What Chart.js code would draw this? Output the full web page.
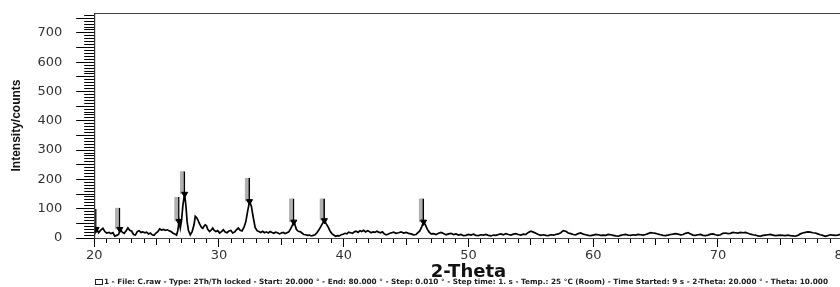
<!DOCTYPE html>
<html>
<head>
<meta charset="utf-8">
<script src="https://cdn.jsdelivr.net/npm/chart.js@4/dist/chart.umd.min.js"></script>
<style>
  html, body { margin: 0; padding: 0; background: #fff; overflow: hidden; }
  #wrap { position: relative; width: 853px; height: 287px; }
</style>
</head>
<body>
<div id="wrap"><canvas id="xrd"></canvas></div>
<script>
// XRD pattern (2-Theta in degrees, counts)
const twoTheta = [
  20.0, 20.1, 20.2, 20.35, 20.5, 20.7, 20.85, 21.0, 21.2, 21.35, 21.5, 21.65, 21.8, 21.95,
  22.1, 22.25, 22.4, 22.55, 22.7, 22.85, 23.0, 23.15, 23.3, 23.45, 23.6, 23.75, 23.9,
  24.05, 24.2, 24.35, 24.5, 24.65, 24.8, 24.95, 25.1, 25.25, 25.4, 25.55, 25.7, 25.85,
  26.0, 26.15, 26.3, 26.45, 26.6, 26.7, 26.8, 26.9, 27.0, 27.1, 27.2, 27.25, 27.35, 27.45,
  27.55, 27.7, 27.85, 28.0, 28.1, 28.2, 28.3, 28.4, 28.5, 28.6, 28.7, 28.8, 28.9, 29.0,
  29.1, 29.25, 29.4, 29.5, 29.6, 29.75, 29.9, 30.05, 30.2, 30.35, 30.5, 30.65, 30.8,
  30.95, 31.1, 31.25, 31.4, 31.55, 31.7, 31.85, 32.0, 32.15, 32.3, 32.45, 32.6, 32.75,
  32.9, 33.05, 33.2, 33.35, 33.5, 33.65, 33.8, 33.95, 34.1, 34.25, 34.4, 34.55, 34.7,
  34.85, 35.0, 35.15, 35.3, 35.45, 35.6, 35.75, 35.9, 36.0, 36.1, 36.2, 36.35, 36.5,
  36.65, 36.8, 36.95, 37.1, 37.25, 37.4, 37.55, 37.7, 37.85, 38.0, 38.15, 38.3, 38.45,
  38.6, 38.75, 38.9, 39.05, 39.2, 39.35, 39.5, 39.65, 39.8, 39.95, 40.1, 40.25, 40.4,
  40.55, 40.7, 40.85, 41.0, 41.15, 41.3, 41.45, 41.6, 41.75, 41.9, 42.05, 42.2, 42.35,
  42.5, 42.65, 42.8, 42.95, 43.1, 43.25, 43.4, 43.55, 43.7, 43.85, 44.0, 44.2, 44.4,
  44.6, 44.8, 45.0, 45.2, 45.4, 45.6, 45.8, 45.95, 46.1, 46.25, 46.4, 46.55, 46.7, 46.85,
  47.0, 47.2, 47.4, 47.6, 47.8, 48.0, 48.2, 48.4, 48.6, 48.8, 49.0, 49.2, 49.4, 49.6,
  49.8, 50.0, 50.2, 50.4, 50.6, 50.8, 51.0, 51.2, 51.4, 51.6, 51.8, 52.0, 52.2, 52.4,
  52.6, 52.8, 53.0, 53.2, 53.4, 53.6, 53.8, 54.0, 54.2, 54.4, 54.6, 54.8, 55.0, 55.2,
  55.4, 55.6, 55.8, 56.0, 56.2, 56.4, 56.6, 56.8, 57.0, 57.2, 57.4, 57.6, 57.8, 58.0,
  58.2, 58.4, 58.6, 58.8, 59.0, 59.2, 59.4, 59.6, 59.8, 60.0, 60.2, 60.4, 60.6, 60.8,
  61.0, 61.2, 61.4, 61.6, 61.8, 62.0, 62.2, 62.4, 62.6, 62.8, 63.0, 63.2, 63.4, 63.6,
  63.8, 64.0, 64.2, 64.4, 64.6, 64.8, 65.0, 65.2, 65.4, 65.6, 65.8, 66.0, 66.2, 66.4,
  66.6, 66.8, 67.0, 67.2, 67.4, 67.6, 67.8, 68.0, 68.2, 68.4, 68.6, 68.8, 69.0, 69.2,
  69.4, 69.6, 69.8, 70.0, 70.2, 70.4, 70.6, 70.8, 71.0, 71.2, 71.4, 71.6, 71.8, 72.0,
  72.2, 72.4, 72.6, 72.8, 73.0, 73.2, 73.4, 73.6, 73.8, 74.0, 74.2, 74.4, 74.6, 74.8,
  75.0, 75.2, 75.4, 75.6, 75.8, 76.0, 76.2, 76.4, 76.6, 76.8, 77.0, 77.2, 77.4, 77.6,
  77.8, 78.0, 78.2, 78.4, 78.6, 78.8, 79.0, 79.2, 79.4, 79.6, 79.8, 80.0
];
const counts = [
  10, 22, 30, 18, 26, 33, 22, 17, 19, 15, 18, 6, 9, 12,
  29, 20, 16, 24, 34, 26, 23, 12, 10, 22, 25, 19, 21,
  18, 20, 14, 17, 11, 9, 17, 22, 31, 27, 29, 26, 28,
  25, 22, 17, 14, 10, 25, 57, 34, 60, 108, 140, 150, 110, 55,
  26, 11, 22, 45, 74, 70, 63, 52, 44, 36, 33, 40, 45, 42,
  30, 22, 28, 34, 27, 22, 25, 17, 22, 28, 20, 18, 24,
  26, 17, 20, 28, 34, 26, 24, 36, 55, 92, 125, 108, 70,
  36, 25, 22, 19, 23, 18, 21, 17, 22, 19, 16, 20, 18,
  14, 17, 19, 15, 18, 21, 32, 45, 55, 44, 30, 23, 22,
  17, 12, 11, 9, 10, 7, 9, 11, 18, 27, 38, 50, 60,
  48, 38, 24, 15, 10, 6, 8, 7, 11, 13, 16, 14, 20,
  18, 16, 21, 23, 19, 25, 22, 26, 21, 25, 22, 18, 21,
  19, 23, 20, 18, 21, 14, 11, 13, 16, 18, 20, 16, 18,
  21, 17, 19, 16, 14, 11, 12, 18, 24, 38, 55, 45, 30, 20,
  14, 15, 12, 16, 19, 15, 11, 14, 16, 12, 14, 10, 12, 8,
  9, 12, 10, 13, 9, 8, 11, 10, 12, 9, 7, 10, 9, 12,
  14, 11, 15, 12, 10, 13, 15, 12, 10, 13, 12, 19, 23, 20,
  16, 12, 9, 11, 9, 8, 11, 10, 12, 14, 18, 25, 23, 17,
  15, 12, 11, 15, 17, 13, 11, 9, 8, 10, 12, 11, 9, 10,
  9, 12, 11, 9, 7, 6, 9, 11, 12, 10, 9, 11, 10, 12,
  11, 10, 12, 15, 18, 17, 16, 13, 11, 9, 8, 10, 12, 13,
  15, 13, 11, 12, 16, 18, 14, 10, 9, 11, 12, 9, 8, 10,
  13, 14, 11, 9, 11, 16, 17, 15, 16, 19, 18, 17, 19, 18,
  19, 16, 13, 11, 10, 7, 6, 9, 10, 11, 12, 10, 8, 9,
  10, 9, 8, 10, 8, 7, 6, 9, 14, 17, 19, 21, 20, 18,
  17, 14, 11, 9, 6, 8, 11, 10, 9, 10, 12, 11
];

// phase markers: peak position, marker level, top of label bar
const peakPos  = [20.15, 22.05, 26.8, 27.25, 32.45, 36.0, 38.45, 46.4];
const peakMark = [30, 30, 57, 150, 125, 55, 60, 55];
const labelTop = [100, 103, 140, 228, 205, 135, 135, 135];

const footerText = '1 - File: C.raw - Type: 2Th/Th locked - Start: 20.000 \u00b0 - End: 80.000 \u00b0 - Step: 0.010 \u00b0 - Step time: 1. s - Temp.: 25 \u00b0C (Room) - Time Started: 9 s - 2-Theta: 20.000 \u00b0 - Theta: 10.000';

// frame around the plot + footer line
const framePlugin = {
    id: 'frame',
    afterDraw(chart) {
        const {ctx, chartArea} = chart;
        ctx.save();
        ctx.strokeStyle = '#444';
        ctx.lineWidth = 1;
        ctx.strokeRect(chartArea.left + 0.5, chartArea.top + 0.5,
            chartArea.right - chartArea.left, chartArea.bottom - chartArea.top);
        ctx.fillStyle = '#222';
        ctx.font = 'bold 7.3px "DejaVu Sans"';
        ctx.textBaseline = 'middle';
        ctx.fillText(footerText, 104, 282);
        ctx.strokeStyle = '#222';
        ctx.strokeRect(95.5, 279.5, 7, 5);
        ctx.restore();
    }
};

const ctx = document.getElementById('xrd');
new Chart(ctx, {
    type: 'scatter',
    data: {
        datasets: [
            {
                type: 'line',
                data: twoTheta.map((x, i) => ({x: x, y: counts[i]})),
                borderColor: '#000',
                borderWidth: 1.7,
                pointRadius: 0,
                tension: 0,
                order: 1
            },
            {
                type: 'bar',
                data: peakPos.map((x, i) => ({x: x - 0.18, y: [peakMark[i], labelTop[i]]})),
                backgroundColor: '#b0b0b0',
                borderColor: '#000',
                borderWidth: {left: 0, right: 1.5, top: 0, bottom: 0},
                borderSkipped: false,
                barThickness: 5,
                order: 2
            },
            {
                type: 'scatter',
                data: peakPos.map((x, i) => ({x: x, y: peakMark[i]})),
                pointStyle: 'triangle',
                rotation: 180,
                pointRadius: 3.5,
                backgroundColor: '#000',
                borderColor: '#000',
                order: 0
            }
        ]
    },
    options: {
        responsive: true,
        maintainAspectRatio: false,
        animation: false,
        layout: {
            padding: {left: 9, top: 13, right: 0, bottom: 6}
        },
        scales: {
            x: {
                type: 'linear',
                min: 20,
                max: 80,
                offset: false,
                border: {display: true, color: '#000', width: 1},
                grid: {
                    offset: false,
                    drawOnChartArea: false,
                    color: '#000',
                    tickLength: 9,
                    tickBorderDash: (c) => {
                        const v = c.tick ? c.tick.value : 0;
                        if (v % 10 === 0) return [];
                        return v % 5 === 0 ? [6, 50] : [4, 50];
                    }
                },
                ticks: {
                    stepSize: 1,
                    autoSkip: false,
                    maxRotation: 0,
                    padding: 2,
                    color: '#333',
                    font: {family: 'DejaVu Sans', size: 13, lineHeight: 1},
                    callback: (v) => v % 10 === 0 ? v : ''
                },
                title: {
                    display: true,
                    text: '2-Theta',
                    color: '#111',
                    padding: {top: -1, bottom: 0},
                    font: {family: 'DejaVu Sans', size: 18, weight: 'bold', lineHeight: 1}
                }
            },
            y: {
                type: 'linear',
                min: 0,
                max: 768,
                afterFit: (scale) => {
                    scale.paddingTop = 0;
                    scale.paddingBottom = 0;
                },
                border: {display: true, color: '#000', width: 1},
                grid: {
                    drawOnChartArea: false,
                    color: '#000',
                    tickLength: 18,
                    tickBorderDash: (c) => {
                        const v = c.tick ? c.tick.value : 0;
                        return v % 50 === 0 ? [] : [0, 8, 10, 50];
                    }
                },
                ticks: {
                    stepSize: 10,
                    autoSkip: false,
                    includeBounds: false,
                    padding: 14,
                    color: '#333',
                    font: {family: 'DejaVu Sans', size: 13},
                    callback: (v) => v % 100 === 0 ? v : ''
                },
                title: {
                    display: true,
                    text: 'Intensity/counts',
                    color: '#111',
                    padding: {top: 0, bottom: 0},
                    font: {family: 'Liberation Sans', size: 12, weight: 'bold'}
                }
            }
        },
        plugins: {
            legend: {display: false},
            tooltip: {enabled: false}
        }
    },
    plugins: [framePlugin]
});
</script>
</body>
</html>
